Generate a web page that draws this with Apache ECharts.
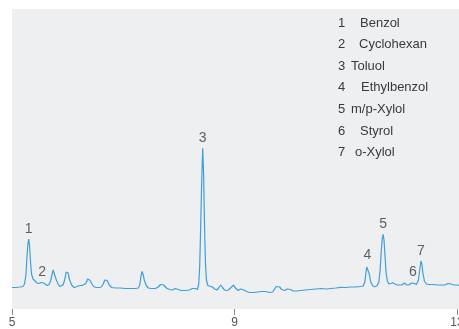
<!DOCTYPE html>
<html>
<head>
<meta charset="utf-8">
<script src="https://cdn.jsdelivr.net/npm/echarts@6/dist/echarts.min.js"></script>
<style>
  html, body { margin: 0; padding: 0; background: #ffffff; }
  #chart { width: 459px; height: 329px; }
</style>
</head>
<body>
<div id="chart"></div>
<script>
// Retention time (min) of each sampled detector point
const retentionTime = [
  5.000, 5.072, 5.144, 5.198, 5.225, 5.252, 5.270, 5.288, 5.301, 5.315,
  5.333, 5.351, 5.378, 5.414, 5.450, 5.486, 5.523, 5.541, 5.568, 5.595,
  5.631, 5.667, 5.694, 5.721, 5.739, 5.757, 5.784, 5.820, 5.856, 5.883,
  5.919, 5.946, 5.973, 5.991, 6.009, 6.036, 6.072, 6.117, 6.153, 6.189,
  6.225, 6.261, 6.297, 6.333, 6.360, 6.378, 6.405, 6.432, 6.468, 6.514,
  6.568, 6.604, 6.640, 6.667, 6.688, 6.712, 6.748, 6.793, 6.856, 6.946,
  7.036, 7.126, 7.216, 7.270, 7.297, 7.319, 7.337, 7.355, 7.378, 7.414,
  7.450, 7.505, 7.577, 7.631, 7.667, 7.697, 7.730, 7.775, 7.829, 7.883,
  7.937, 7.964, 7.991, 8.045, 8.117, 8.189, 8.243, 8.274, 8.297, 8.333,
  8.357, 8.375, 8.393, 8.411, 8.429, 8.445, 8.461, 8.477, 8.495, 8.519,
  8.550, 8.604, 8.640, 8.685, 8.721, 8.753, 8.784, 8.820, 8.856, 8.892,
  8.928, 8.955, 8.986, 9.009, 9.063, 9.108, 9.139, 9.171, 9.216, 9.270,
  9.342, 9.414, 9.486, 9.559, 9.631, 9.685, 9.721, 9.748, 9.775, 9.811,
  9.847, 9.901, 9.946, 9.978, 10.009, 10.054, 10.117, 10.189, 10.279, 10.369,
  10.459, 10.550, 10.658, 10.730, 10.820, 10.910, 11.000, 11.090, 11.180, 11.270,
  11.315, 11.342, 11.360, 11.378, 11.391, 11.405, 11.423, 11.450, 11.486, 11.523,
  11.559, 11.595, 11.618, 11.640, 11.658, 11.672, 11.688, 11.706, 11.724, 11.748,
  11.775, 11.811, 11.847, 11.883, 11.928, 11.973, 12.009, 12.054, 12.099, 12.135,
  12.180, 12.207, 12.234, 12.270, 12.306, 12.330, 12.351, 12.369, 12.387, 12.414,
  12.450, 12.495, 12.568, 12.640, 12.712, 12.784, 12.838, 12.865, 12.892, 12.946,
  13.000, 13.054
];

// Detector signal (arbitrary units) at each retention time
const signal = [
  21.5, 21.5, 22, 22.5, 25, 35, 53, 66, 70, 64,
  47, 35, 30, 28, 26, 25.5, 26.5, 27, 26, 24,
  23.5, 24.5, 28, 35, 39, 37, 31, 26, 22.5, 22,
  24, 29, 37, 39, 36, 29, 24, 21.5, 22, 23,
  23.5, 23.5, 24.5, 26, 30, 31.5, 28.5, 25.5, 22.5, 21.5,
  21.5, 22, 25, 29, 31, 28.5, 24, 21.5, 21, 21,
  20.5, 20.5, 20.5, 21, 24, 33, 37.5, 35, 29, 23.5,
  21, 20.5, 20.5, 22, 24.5, 25.7, 24, 21, 19.5, 19,
  20.5, 21.3, 19.5, 18.5, 18.5, 19, 20.5, 22.3, 20.5, 19.5,
  25, 44, 84, 129, 160.7, 134, 84, 47, 29, 23.5,
  22.5, 22, 20, 19, 21.5, 24, 21.5, 19, 18.5, 19,
  21, 23, 24, 21.5, 18.5, 20, 20.7, 19, 17.5, 16.5,
  16.5, 17, 17.5, 17.5, 16.5, 17, 20, 22.5, 23.3, 22,
  19.5, 18.5, 20, 20.7, 19.5, 18, 18, 18.5, 19, 19.5,
  20, 20.5, 20, 20.5, 21, 21.7, 21.5, 22, 22.2, 22.5,
  23, 27, 35, 42, 44, 42, 35, 27, 23, 22.3,
  23, 27, 39, 59, 71, 74.7, 69, 53, 37, 28,
  25, 25.5, 26.3, 25, 24, 24, 24, 26, 24, 24,
  26, 27, 25.5, 24.5, 29, 39, 48, 45, 36, 28,
  25, 24.5, 24.5, 24, 24, 24, 25.5, 26.7, 25, 24,
  24, 23.5
];

// Numbered peaks: label, apex time, apex signal
const peakIds = ['1', '2', '3', '4', '5', '6', '7'];
const peakTimes = [5.301, 5.541, 8.429, 11.391, 11.672, 12.207, 12.351];
const peakHeights = [70, 27, 160.7, 44, 74.7, 27, 48];

// Compound key shown in the upper right
const keyNumbers = ['1', '2', '3', '4', '5', '6', '7'];
const keyNames = ['Benzol', 'Cyclohexan', 'Toluol', 'Ethylbenzol', 'm/p-Xylol', 'Styrol', 'o-Xylol'];

// X-axis ticks
const xTickMin = 5;
const xTickStep = 4;
const xTickMax = 13;

const chart = echarts.init(document.getElementById('chart'), null, { renderer: 'canvas' });

const FONT = '"Liberation Sans", Arial, Helvetica, sans-serif';
const nameX = [360, 359, 351, 361, 351, 360, 355];

// Plot backdrop runs a little past the last tick, to the right edge
const graphics = [{
  type: 'rect', silent: true, z: -100,
  shape: { x: 12, y: 9, width: 447, height: 300 },
  style: { fill: '#eeeff1' }
}];
keyNumbers.forEach(function (n, i) {
  const y = 24.5 + i * 21.6;
  graphics.push({
    type: 'text', left: 338, top: y - 8, silent: true,
    style: { text: n, fill: '#3a3a3a', font: '13px ' + FONT }
  });
  graphics.push({
    type: 'text', left: nameX[i], top: y - 8, silent: true,
    style: { text: keyNames[i], fill: '#3a3a3a', font: '13px ' + FONT }
  });
});

chart.setOption({
  animation: false,
  backgroundColor: '#ffffff',
  grid: {
    left: 12, right: 2, top: 9, bottom: 20,
    outerBoundsMode: 'none',
    containLabel: false,
    show: false
  },
  xAxis: {
    type: 'value',
    min: xTickMin,
    max: xTickMax,
    interval: xTickStep,
    axisLine: { show: false },
    axisTick: { show: true, length: 6, lineStyle: { color: '#8a8a8a', width: 1 } },
    splitLine: { show: false },
    axisLabel: {
      color: '#555555', fontSize: 12, fontFamily: FONT, margin: 8,
      hideOverlap: false
    }
  },
  yAxis: {
    type: 'value', min: 0, max: 300,
    show: false, splitLine: { show: false }
  },
  graphic: graphics,
  series: [
    {
      type: 'line',
      data: retentionTime.map(function (t, i) { return [t, signal[i]]; }),
      showSymbol: false,
      smooth: false,
      lineStyle: { color: '#3f9fd9', width: 1.2 },
      clip: false,
      z: 2
    },
    {
      type: 'scatter',
      data: peakTimes.map(function (t, i) { return { value: [t, peakHeights[i]], name: peakIds[i] }; }),
      symbolSize: 0,
      label: {
        show: true, position: 'top', distance: 3,
        formatter: function (p) { return p.name; },
        color: '#3a3a3a', fontSize: 14, fontFamily: FONT
      },
      z: 3
    }
  ]
});
</script>
</body>
</html>
